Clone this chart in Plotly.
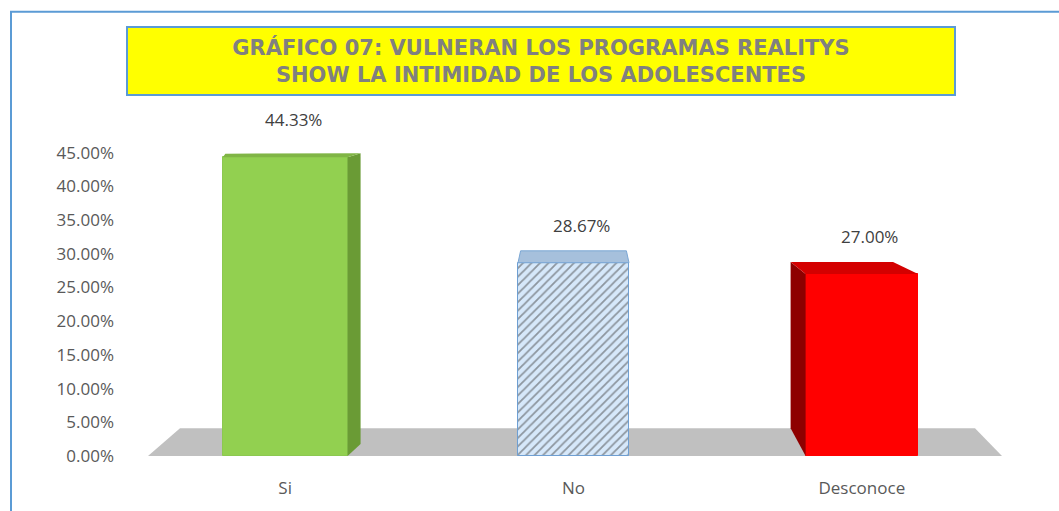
import plotly.graph_objects as go

categories = ["Si", "No", "Desconoce"]
values = [44.33, 28.67, 27.00]
value_labels = ["44.33%", "28.67%", "27.00%"]
tick_values = [0, 5, 10, 15, 20, 25, 30, 35, 40, 45]
tick_labels = [f"{v:.2f}%" for v in tick_values]

W, H = 1059, 511
ML, MR, MT, MB = 141, 53, 119, 53
PW, PH = W - ML - MR, H - MT - MB
YMAX = 50
XPX = PW / 3.0          # pixels per category unit
YPX = PH / YMAX         # pixels per percent

x = list(range(len(categories)))
widths = [0.433, 0.385, 0.39]
front_colors = ["#92d050", "#d6e8fa", "#ff0000"]

fig = go.Figure()
fig.add_trace(go.Bar(
    x=x, y=values, width=widths,
    marker=dict(
        color=front_colors,
        line=dict(color=["#8cc850", "#6f9fd2", "#ff0000"], width=1),
        pattern=dict(shape=["", "/", ""], fgcolor="#b4d3f3", bgcolor="#dcecfc",
                     size=6, solidity=0.3, fillmode="overlay"),
    ),
    hoverinfo="skip",
))

shapes = []


def px2x(px):
    return (px - ML) / XPX - 0.5


def px2y(py):
    return (MT + PH - py) / YPX


# floor
shapes.append(dict(type="path", xref="x", yref="y", layer="below",
                   path=f"M {px2x(148)},0 L {px2x(1002)},0 L {px2x(975)},{px2y(430)} L {px2x(180)},{px2y(430)} Z",
                   fillcolor="#c0c0c0", line=dict(width=0)))

dx = 13 / XPX
dy = 4 / YPX
# Si: right side and top
xi, v, w = x[0], values[0], widths[0]
xr = xi + w / 2
xl = xi - w / 2
shapes.append(dict(type="path", xref="x", yref="y",
                   path=f"M {xr},0 L {xr+dx},{dy*3} L {xr+dx},{v+dy} L {xr},{v} Z",
                   fillcolor="#6a9b35", line=dict(width=0)))
shapes.append(dict(type="path", xref="x", yref="y",
                   path=f"M {xl},{v} L {xr},{v} L {xr+dx},{v+dy} L {xl+dx*0.2},{v+dy*0.9} Z",
                   fillcolor="#80b545", line=dict(width=0)))
# No: top face
xi, v, w = x[1], values[1], widths[1]
xr = xi + w / 2
xl = xi - w / 2
shapes.append(dict(type="path", xref="x", yref="y",
                   path=f"M {xl},{v} L {xr},{v} L {xr-dx*0.2},{v+dy*3} L {xl+dx*0.2},{v+dy*3} Z",
                   fillcolor="#a6c0dc", line=dict(color="#7aa6d4", width=1)))
# Desconoce: left side and top
xi, v, w = x[2], values[2], widths[2]
xr = xi + w / 2
xl = xi - w / 2
sdx = 15 / XPX
shapes.append(dict(type="path", xref="x", yref="y",
                   path=f"M {xl},0 L {xl-sdx},{dy*7} L {xl-sdx},{v+dy*3} L {xl},{v} Z",
                   fillcolor="#8e0000", line=dict(width=0)))
shapes.append(dict(type="path", xref="x", yref="y",
                   path=f"M {xl},{v} L {xr},{v} L {xr-25/XPX},{v+dy*3} L {xl-sdx},{v+dy*3} Z",
                   fillcolor="#d40000", line=dict(width=0)))

# outer frame
shapes.append(dict(type="rect", xref="paper", yref="paper",
                   x0=(11 - ML) / PW, x1=(1100 - ML) / PW,
                   y0=-(120) / PH, y1=(MT + PH - 11) / PH,
                   line=dict(color="#5b9bd5", width=2), fillcolor="rgba(0,0,0,0)"))
fig.update_layout(shapes=shapes)

annotations = []
for xi, v, t in zip(x, values, value_labels):
    annotations.append(dict(x=xi, y=v, xref="x", yref="y", text=t, showarrow=False,
                            yanchor="bottom", yshift=24, xshift=8,
                            font=dict(family="Open Sans, Liberation Sans, sans-serif", size=17, color="#404040")))
annotations.append(dict(
    x=(541 - ML) / PW, y=(MT + PH - 61) / PH, xref="paper", yref="paper",
    xanchor="center", yanchor="middle", showarrow=False,
    text="GRÁFICO 07: VULNERAN LOS PROGRAMAS REALITYS<br>SHOW LA INTIMIDAD DE LOS ADOLESCENTES",
    font=dict(family="DejaVu Sans, sans-serif", size=21, color="#808080", weight="bold"),
    bgcolor="#ffff00", bordercolor="#5b9bd5", borderwidth=2, borderpad=2,
    width=822, height=62, align="center"))
fig.update_layout(annotations=annotations)

fig.update_layout(
    width=W, height=H,
    margin=dict(l=ML, r=MR, t=MT, b=MB, pad=0),
    paper_bgcolor="white", plot_bgcolor="white",
    showlegend=False, bargap=0,
    xaxis=dict(range=[-0.5, 2.5], tickmode="array", tickvals=x, ticktext=categories,
               showgrid=False, zeroline=False, showline=False, ticks="",
               ticklabelstandoff=20,
               tickfont=dict(family="Open Sans, Liberation Sans, sans-serif", size=17, color="#595959")),
    yaxis=dict(range=[0, YMAX], tickmode="array", tickvals=tick_values, ticktext=tick_labels,
               showgrid=False, zeroline=False, showline=False, ticks="",
               ticklabelstandoff=26,
               tickfont=dict(family="Open Sans, Liberation Sans, sans-serif", size=17, color="#595959")),
)

fig.write_html("out.html", config={"displayModeBar": False},
               post_script="document.body.style.margin='0';")
